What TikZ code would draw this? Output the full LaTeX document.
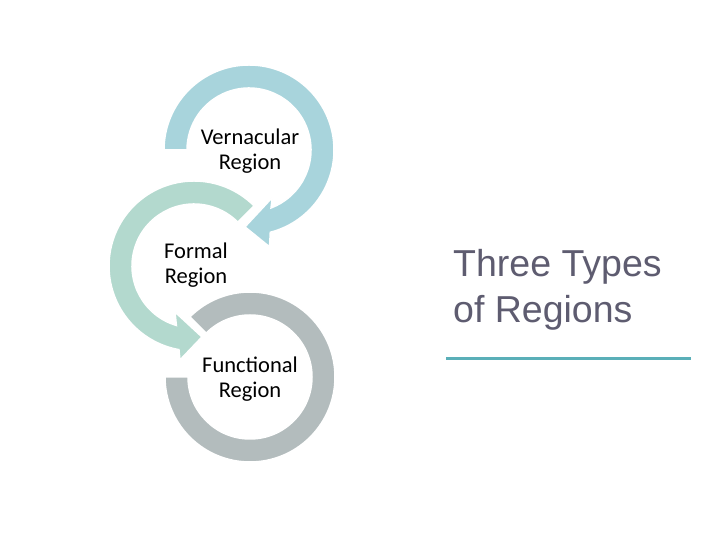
\documentclass[tikz,border=0pt]{standalone}
\usepackage{fontspec}
\setmainfont{Carlito}
\newfontfamily\titlefont{Liberation Sans}
\definecolor{ringblue}{HTML}{A8D4DC}
\definecolor{ringgreen}{HTML}{B3D9CE}
\definecolor{ringgray}{HTML}{B3BCBD}
\definecolor{titlecol}{HTML}{5E5C70}
\definecolor{rulecol}{HTML}{5AAFB8}
\tikzset{
  ringshape/.style={draw=white, line width=1.5pt, line join=miter},
  ringlabel/.style={align=center, font=\fontsize{22.5}{24.5}\selectfont, text=black, inner sep=0pt},
}
\begin{document}
\begin{tikzpicture}[x=1pt,y=1pt]
\useasboundingbox (0,0) rectangle (720,540);
\fill[white] (0,0) rectangle (720,540);
% ring 3 (Functional)
\begin{scope}[shift={(250,163)}]
\fill[ringgray, ringshape] (135:85) arc[start angle=135, end angle=-180, radius=85]
  -- (-180:62) arc[start angle=-180, end angle=135, radius=62] -- cycle;
\end{scope}
% ring 2 (Formal)
\begin{scope}[shift={(194,274)}]
\fill[ringgreen, ringshape] (45:85) arc[start angle=45, end angle=259.8, radius=85]
  -- (261.5:95) -- (276.4:71.4) -- (247.6:49.8) -- (253.5:62)
  arc[start angle=253.5, end angle=45, radius=62] -- cycle;
\end{scope}
% ring 1 (Vernacular)
\begin{scope}[shift={(249,390)}]
\fill[ringblue, ringshape] (180:85) arc[start angle=180, end angle=-75.5, radius=85]
  -- (-78:99) -- (-93:77) -- (-64:53) -- (-69.2:62)
  arc[start angle=-69.2, end angle=180, radius=62] -- cycle;
\end{scope}
\node[ringlabel] (vern) at (250,389) {Vernacular\\Region};
\node[ringlabel] (formal) at (196,275) {Formal\\Region};
\node[ringlabel] (func) at (250,161) {Functional\\Region};
\node[anchor=base west, align=left, inner sep=0pt, text=titlecol,
      font=\titlefont\fontsize{37.5}{46}\selectfont] (title) at (453,217) {Three Types\\of Regions};
\coordinate (ruleA) at (446,181.5);
\coordinate (ruleB) at (691,181.5);
\draw[rulecol, line width=3.5pt] (ruleA) -- (ruleB);
\end{tikzpicture}
\end{document}
